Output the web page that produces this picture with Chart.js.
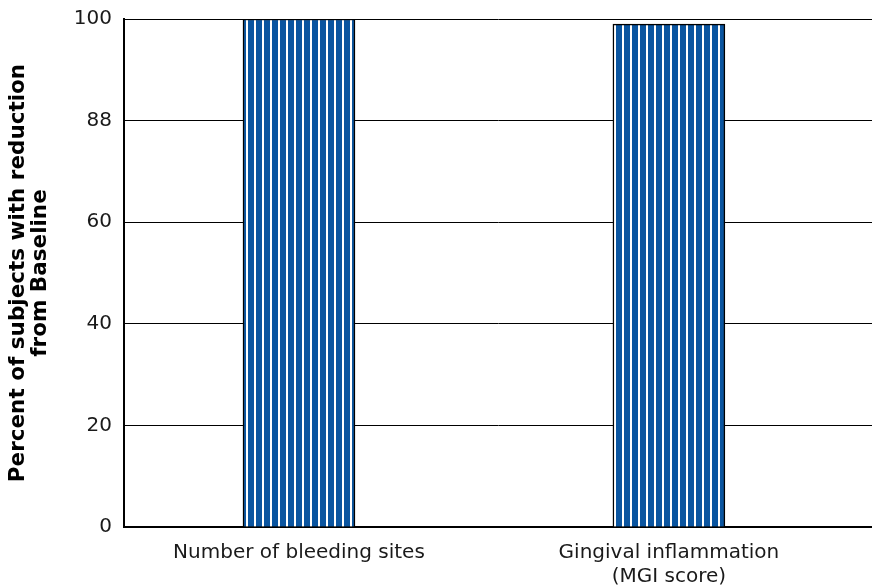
<!DOCTYPE html>
<html>
<head>
<meta charset="utf-8">
<script src="https://cdn.jsdelivr.net/npm/chart.js@4/dist/chart.umd.min.js"></script>
<style>
  html, body { margin: 0; padding: 0; background: #fff; }
  #wrap { width: 872px; height: 586px; }
</style>
</head>
<body>
<div id="wrap"><canvas id="bar-chart" width="872" height="586"></canvas></div>
<script>
// chart data
const categories = ['Number of bleeding sites', ['Gingival inflammation', '(MGI score)']];
const percentReduced = [100, 99];
const yTickValues = [0, 20, 40, 60, 80, 100];
const yTickLabels = ['0', '20', '40', '60', '88', '100'];

// vertical blue / white stripes like the printed figure
function stripePattern() {
    const c = document.createElement('canvas');
    c.width = 8;
    c.height = 8;
    const g = c.getContext('2d');
    g.fillStyle = '#0a55a0';
    g.fillRect(0, 0, 8, 8);
    g.fillStyle = '#ffffff';
    g.fillRect(6, 0, 2, 8);
    return g.createPattern(c, 'repeat');
}

const ctx = document.getElementById('bar-chart').getContext('2d');
const tickFont = { family: '"DejaVu Sans", sans-serif', size: 20 };

new Chart(ctx, {
    type: 'bar',
    data: {
        datasets: [{
            label: 'Percent of subjects',
            data: percentReduced.map((v, i) => ({ x: i, y: v })),
            backgroundColor: stripePattern(),
            borderColor: '#000',
            borderWidth: 1.5,
            barThickness: 112,
        }],
    },
    options: {
        responsive: false,
        animation: false,
        layout: { padding: { top: 19, right: 0, left: 0, bottom: 0 } },
        plugins: {
            legend: { display: false },
            tooltip: { enabled: false },
        },
        scales: {
            x: {
                type: 'linear',
                offset: false,
                min: -0.473,
                max: 1.549,
                grid: { display: false, offset: false },
                border: { display: true, color: '#000', width: 2 },
                afterFit: (scale) => { scale.height = 59; },
                afterBuildTicks: (scale) => {
                    scale.ticks = categories.map((c, i) => ({ value: i }));
                },
                ticks: {
                    autoSkip: false,
                    maxRotation: 0,
                    padding: 6,
                    color: '#1a1a1a',
                    font: tickFont,
                    callback: (v) => categories[v],
                },
            },
            y: {
                min: 0,
                max: 100,
                grid: { color: '#000', lineWidth: 1, drawTicks: false },
                border: { display: true, color: '#000', width: 2 },
                afterFit: (scale) => {
                    scale.width = 124;
                    scale.paddingTop = 0;
                    scale.paddingBottom = 0;
                },
                afterBuildTicks: (scale) => {
                    scale.ticks = yTickValues.map(v => ({ value: v }));
                },
                ticks: {
                    padding: 12,
                    color: '#1a1a1a',
                    font: tickFont,
                    callback: (v) => yTickLabels[yTickValues.indexOf(v)],
                },
                title: {
                    display: true,
                    text: ['Percent of subjects with reduction', 'from Baseline'],
                    color: '#000',
                    font: { family: '"DejaVu Sans", sans-serif', size: 21.5, weight: 'bold', lineHeight: 1.05 },
                    padding: { top: 7, bottom: 0 },
                },
            },
        },
    },
});
</script>
</body>
</html>
